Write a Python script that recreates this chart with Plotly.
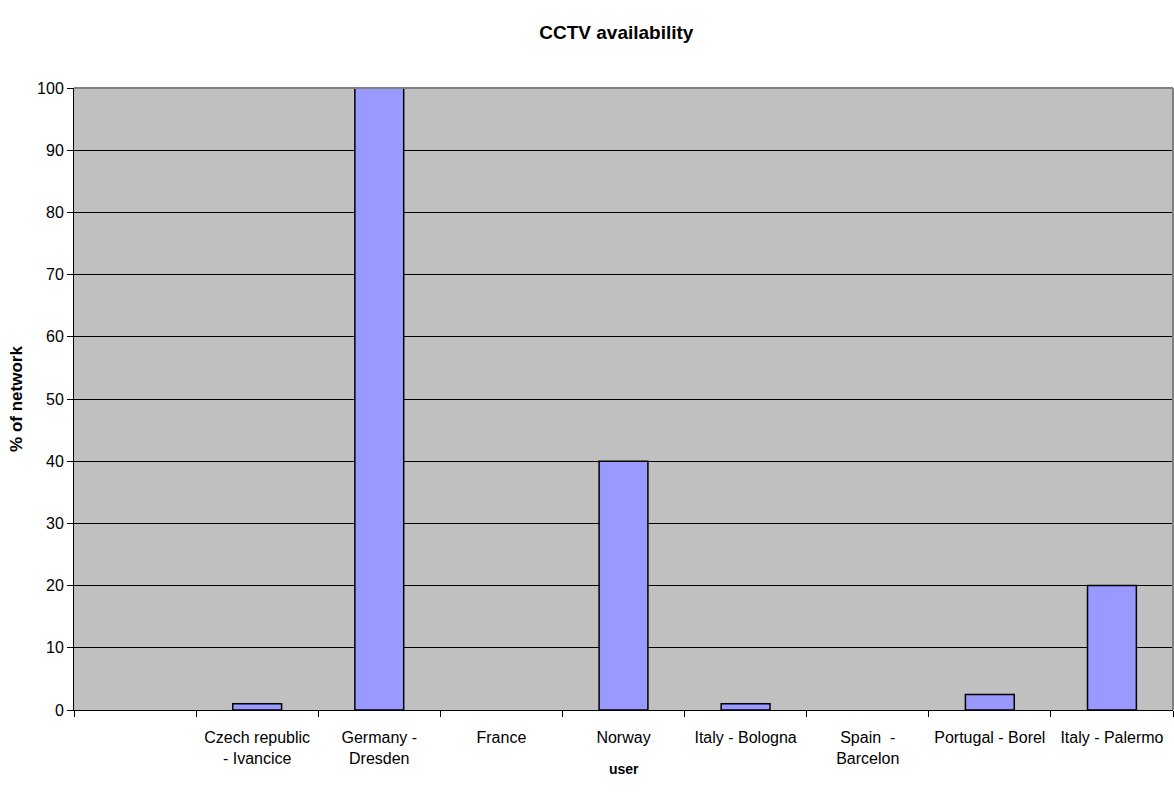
import plotly.graph_objects as go

categories = [" ", "Czech republic<br>- Ivancice", "Germany -<br>Dresden", "France", "Norway",
              "Italy - Bologna", "Spain  -<br>Barcelon", "Portugal - Borel", "Italy - Palermo"]
values = [None, 1, 100, 0, 40, 1, 0, 2.5, 20]
y_ticks = list(range(0, 101, 10))

FONT = "Liberation Sans, Arial, sans-serif"

outline_widths = [1.5 if (v is not None and v > 0) else 0 for v in values]

fig = go.Figure(go.Bar(
    x=categories, y=values,
    marker=dict(color="#9999FF", line=dict(color="#000000", width=outline_widths)),
    width=0.4,
))

fig.update_layout(
    width=1174, height=802,
    paper_bgcolor="white", plot_bgcolor="#C0C0C0",
    margin=dict(l=74, r=1, t=88, b=92),
    font=dict(family=FONT, size=16, color="black"),
    showlegend=False,
    title=dict(text="<b>CCTV availability</b>", x=0.525, xanchor="center", y=0.96, yanchor="middle",
               font=dict(size=19)),
)
fig.update_xaxes(
    type="category", categoryorder="array", categoryarray=categories,
    tickson="boundaries", ticks="outside", ticklen=6, tickcolor="black",
    showgrid=False, showline=True, linecolor="black", linewidth=1,
    tickfont=dict(size=16), ticklabelstandoff=13,
)
fig.add_annotation(text="<b>user</b>", xref="paper", yref="paper", x=0.5, y=-59 / 622,
                   xanchor="center", yanchor="middle", showarrow=False, font=dict(size=14))
fig.update_yaxes(
    range=[0, 100], tickvals=y_ticks, ticks="outside", ticklen=6, tickcolor="black",
    showgrid=True, gridcolor="black", gridwidth=1,
    showline=True, linecolor="black", linewidth=1, zeroline=False,
    title=dict(text="<b>% of network</b>", font=dict(size=17), standoff=10),
    tickfont=dict(size=16),
)
fig.add_shape(type="line", xref="paper", yref="paper", x0=0, x1=1, y0=1, y1=1,
              line=dict(color="#808080", width=2), layer="above")
fig.add_shape(type="line", xref="paper", yref="paper", x0=1, x1=1, y0=0, y1=1,
              line=dict(color="#808080", width=2), layer="above")

fig.write_html("out.html")
